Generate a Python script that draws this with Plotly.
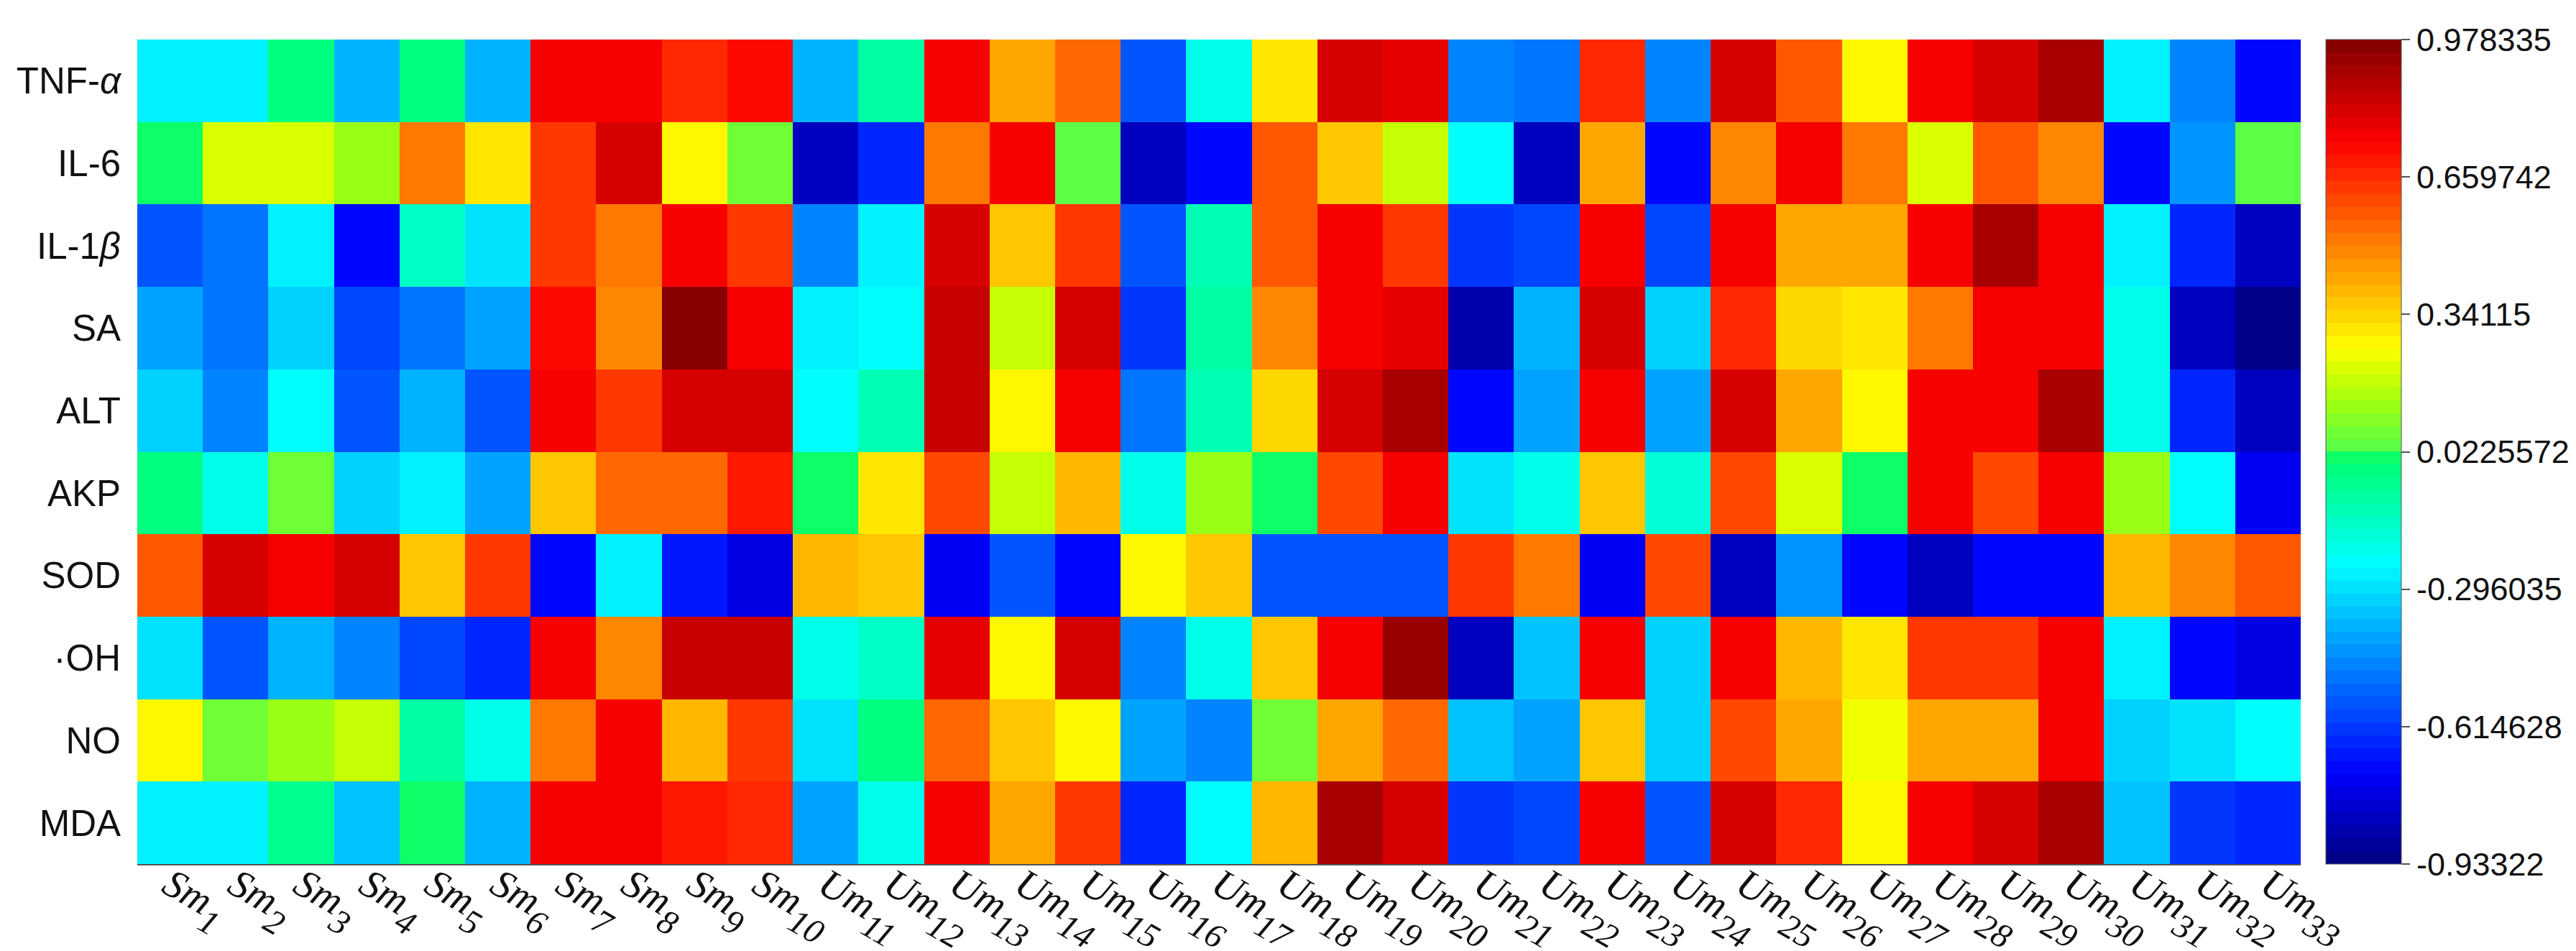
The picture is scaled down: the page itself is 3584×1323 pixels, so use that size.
import plotly.graph_objects as go

samples = ['Sm', 'Sm', 'Sm', 'Sm', 'Sm', 'Sm', 'Sm', 'Sm', 'Sm', 'Sm'] + ['Um'] * 23
sample_nums = list(range(1, 34))
indicators = ['TNF-<i>α</i>', 'IL-6', 'IL-1<i>β</i>', 'SA', 'ALT', 'AKP', 'SOD', '·OH', 'NO', 'MDA']

tnf = [-0.26, -0.26, -0.02, -0.38, -0.01, -0.39, 0.74, 0.74, 0.66, 0.72, -0.38,
       -0.07, 0.74, 0.43, 0.54, -0.55, -0.19, 0.31, 0.81, 0.79, -0.47, -0.51,
       0.66, -0.47, 0.81, 0.58, 0.27, 0.74, 0.81, 0.90, -0.26, -0.47, -0.70]
il6 = [0.02, 0.21, 0.21, 0.14, 0.51, 0.31, 0.62, 0.81, 0.29, 0.08, -0.83,
       -0.64, 0.51, 0.74, 0.04, -0.82, -0.70, 0.58, 0.37, 0.19, -0.235, -0.82,
       0.43, -0.70, 0.48, 0.74, 0.51, 0.21, 0.58, 0.48, -0.70, -0.44, 0.04]
il1b = [-0.55, -0.51, -0.25, -0.71, -0.13, -0.28, 0.64, 0.51, 0.74, 0.62, -0.46,
        -0.25, 0.81, 0.37, 0.62, -0.55, -0.11, 0.58, 0.74, 0.62, -0.61, -0.60,
        0.74, -0.58, 0.74, 0.42, 0.44, 0.74, 0.89, 0.76, -0.25, -0.64, -0.84]
sa = [-0.40, -0.51, -0.32, -0.58, -0.49, -0.40, 0.73, 0.48, 0.95, 0.74, -0.25,
      -0.235, 0.85, 0.18, 0.81, -0.61, -0.08, 0.50, 0.74, 0.77, -0.86, -0.38,
      0.81, -0.32, 0.66, 0.34, 0.31, 0.52, 0.74, 0.76, -0.21, -0.82, -0.93]
alt = [-0.32, -0.47, -0.235, -0.55, -0.38, -0.56, 0.74, 0.62, 0.81, 0.81, -0.235,
       -0.10, 0.85, 0.29, 0.74, -0.51, -0.10, 0.34, 0.81, 0.90, -0.70, -0.40,
       0.74, -0.40, 0.81, 0.42, 0.29, 0.74, 0.76, 0.90, -0.21, -0.66, -0.84]
akp = [-0.03, -0.19, 0.08, -0.32, -0.25, -0.40, 0.37, 0.54, 0.54, 0.68, 0.0,
       0.30, 0.60, 0.18, 0.39, -0.21, 0.14, 0.0, 0.60, 0.74, -0.28, -0.19,
       0.37, -0.17, 0.60, 0.21, 0.02, 0.74, 0.60, 0.76, 0.14, -0.235, -0.73]
sod = [0.58, 0.81, 0.74, 0.81, 0.38, 0.64, -0.70, -0.25, -0.68, -0.77, 0.39,
       0.36, -0.73, -0.55, -0.72, 0.27, 0.36, -0.56, -0.56, -0.56, 0.64, 0.52,
       -0.73, 0.60, -0.82, -0.44, -0.72, -0.83, -0.72, -0.72, 0.39, 0.48, 0.59]
oh = [-0.28, -0.55, -0.38, -0.47, -0.58, -0.65, 0.74, 0.48, 0.85, 0.83, -0.21,
      -0.14, 0.79, 0.27, 0.82, -0.47, -0.19, 0.36, 0.74, 0.92, -0.83, -0.35,
      0.74, -0.33, 0.74, 0.39, 0.31, 0.64, 0.64, 0.76, -0.25, -0.70, -0.78]
no = [0.29, 0.08, 0.14, 0.19, -0.07, -0.19, 0.51, 0.74, 0.39, 0.62, -0.28,
      -0.02, 0.54, 0.37, 0.27, -0.40, -0.46, 0.08, 0.44, 0.56, -0.35, -0.40,
      0.37, -0.33, 0.60, 0.42, 0.25, 0.44, 0.43, 0.74, -0.33, -0.28, -0.235]
mda = [-0.25, -0.25, -0.04, -0.35, 0.0, -0.37, 0.74, 0.76, 0.70, 0.66, -0.40,
       -0.21, 0.76, 0.44, 0.62, -0.66, -0.235, 0.39, 0.89, 0.82, -0.61, -0.60,
       0.74, -0.55, 0.81, 0.66, 0.29, 0.74, 0.80, 0.89, -0.35, -0.61, -0.66]

zmin = -0.93322
zmax = 0.978335
cbar_vals = [0.978335, 0.659742, 0.34115, 0.0225572, -0.296035, -0.614628, -0.93322]
cbar_text = ['0.978335', '0.659742', '0.34115', '0.0225572', '-0.296035', '-0.614628', '-0.93322']


def jet_like(t):
    # jet-ish map as it looks in the picture (green part is more saturated)
    anchors = [(0.0, (0, 0, 128)), (0.11, (0, 0, 255)), (0.365, (0, 255, 255)),
               (0.49, (0, 255, 110)), (0.505, (88, 255, 72)), (0.56, (160, 255, 16)),
               (0.60, (215, 255, 0)), (0.625, (255, 255, 0)), (0.875, (255, 0, 0)),
               (1.0, (128, 0, 0))]
    for (t0, c0), (t1, c1) in zip(anchors[:-1], anchors[1:]):
        if t0 <= t <= t1:
            f = (t - t0) / (t1 - t0)
            return 'rgb(%d,%d,%d)' % tuple(round(a + (b - a) * f) for a, b in zip(c0, c1))
    return 'rgb(128,0,0)'


n_levels = 64
colorscale = []
for i in range(n_levels):
    c = jet_like((i + 0.5) / n_levels)
    colorscale.append([i / n_levels, c])
    colorscale.append([(i + 1) / n_levels, c])

# subscripts kept large and dropped lower, like the LaTeX labels in the original
x_labels = ['<i>%s<sub><span style="font-size:48px;baseline-shift:-8px">%d</span></sub></i>' % (s, n)
            for s, n in zip(samples, sample_nums)]
z = [tnf, il6, il1b, sa, alt, akp, sod, oh, no, mda]

fig = go.Figure(go.Heatmap(
    z=z,
    x=x_labels,
    y=indicators,
    zmin=zmin,
    zmax=zmax,
    colorscale=colorscale,
    colorbar=dict(
        x=1.0116, xanchor='left', xpad=0,
        y=0.5, yanchor='middle', ypad=0,
        len=1, lenmode='fraction', thickness=105,
        outlinewidth=1, outlinecolor='#555',
        tickmode='array', tickvals=cbar_vals, ticktext=cbar_text,
        ticks='outside', ticklen=12, tickcolor='#555', tickwidth=2,
        tickfont=dict(family='Liberation Sans, Arial, sans-serif', size=45, color='#111'),
    ),
))

fig.update_layout(
    width=3584, height=1323,
    margin={'l': 183, 'r': 391, 't': 47, 'b': 129, 'autoexpand': False},
    paper_bgcolor='white', plot_bgcolor='white',
)
fig.update_xaxes(
    tickangle=30, showgrid=False, zeroline=False, automargin=False,
    showline=True, linecolor='#555', linewidth=2,
    ticklabelstandoff=-28,
    tickfont=dict(family='Liberation Serif, Times New Roman, serif', size=56, color='#111'),
)
fig.update_yaxes(
    autorange='reversed', showgrid=False, zeroline=False, automargin=False,
    ticklabelstandoff=22,
    tickfont=dict(family='Liberation Sans, Arial, sans-serif', size=51, color='#111'),
)

fig.write_html("out.html")
